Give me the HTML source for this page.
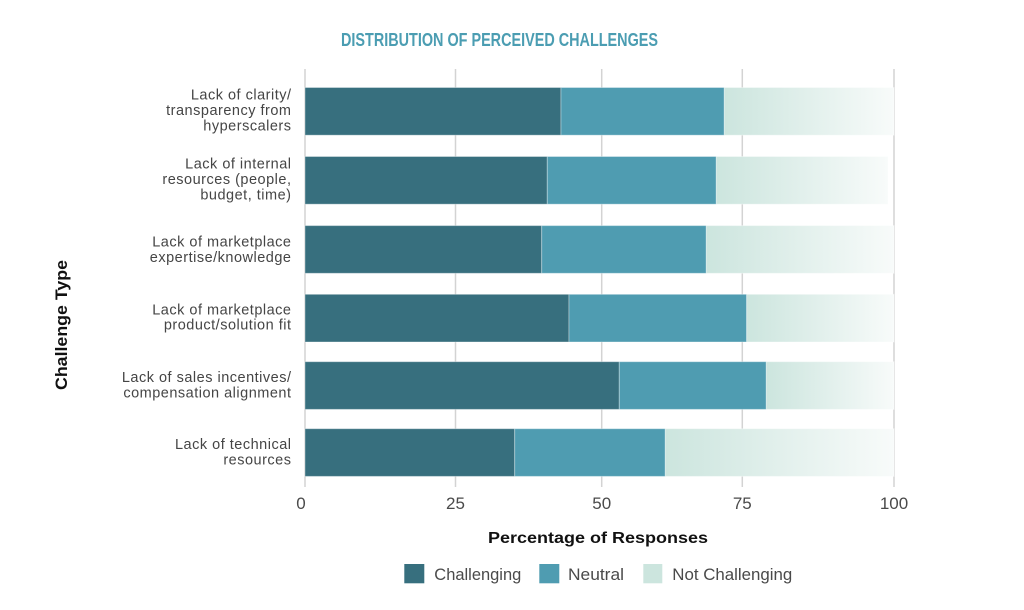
<!DOCTYPE html>
<html>
<head>
<meta charset="utf-8">
<style>
  html, body { margin: 0; padding: 0; background: #ffffff; }
  svg { display: block; }
  text { font-family: "Liberation Sans", sans-serif; }
</style>
</head>
<body>
<svg width="1024" height="610" viewBox="0 0 1024 610" xmlns="http://www.w3.org/2000/svg">
  <defs>
    <linearGradient id="nc" x1="0" y1="0" x2="1" y2="0">
      <stop offset="0" stop-color="#cce5de"/>
      <stop offset="1" stop-color="#f8fbfa"/>
    </linearGradient>
  </defs>
  <rect width="1024" height="610" fill="#ffffff"/>

  <!-- Title -->
  <text x="499.5" y="46" text-anchor="middle" font-size="18" font-weight="bold" fill="#4b9db2" textLength="317" lengthAdjust="spacingAndGlyphs">DISTRIBUTION OF PERCEIVED CHALLENGES</text>

  <!-- Gridlines -->
  <g stroke="#d3d3d3" stroke-width="1.5">
    <line x1="305" y1="69" x2="305" y2="487"/>
    <line x1="455.5" y1="69" x2="455.5" y2="487"/>
    <line x1="601.7" y1="69" x2="601.7" y2="487"/>
    <line x1="742.3" y1="69" x2="742.3" y2="487"/>
    <line x1="894" y1="69" x2="894" y2="487"/>
  </g>

  <!-- Bars -->
  <g stroke="rgba(255,255,255,0.35)" stroke-width="1">
    <rect x="305" y="87.5" width="256" height="47.7" fill="#376f7e"/>
    <rect x="561" y="87.5" width="163.3" height="47.7" fill="#4f9cb1"/>
    <rect x="724.3" y="87.5" width="169.7" height="47.7" fill="url(#nc)"/>

    <rect x="305" y="156.5" width="242.3" height="47.7" fill="#376f7e"/>
    <rect x="547.3" y="156.5" width="169" height="47.7" fill="#4f9cb1"/>
    <rect x="716.3" y="156.5" width="171.7" height="47.7" fill="url(#nc)"/>

    <rect x="305" y="225.6" width="236.7" height="47.7" fill="#376f7e"/>
    <rect x="541.7" y="225.6" width="164.6" height="47.7" fill="#4f9cb1"/>
    <rect x="706.3" y="225.6" width="187.7" height="47.7" fill="url(#nc)"/>

    <rect x="305" y="294.3" width="264" height="47.7" fill="#376f7e"/>
    <rect x="569" y="294.3" width="177.7" height="47.7" fill="#4f9cb1"/>
    <rect x="746.7" y="294.3" width="147.3" height="47.7" fill="url(#nc)"/>

    <rect x="305" y="361.7" width="314.3" height="47.7" fill="#376f7e"/>
    <rect x="619.3" y="361.7" width="147" height="47.7" fill="#4f9cb1"/>
    <rect x="766.3" y="361.7" width="127.7" height="47.7" fill="url(#nc)"/>

    <rect x="305" y="428.7" width="209.7" height="47.7" fill="#376f7e"/>
    <rect x="514.7" y="428.7" width="150.6" height="47.7" fill="#4f9cb1"/>
    <rect x="665.3" y="428.7" width="228.7" height="47.7" fill="url(#nc)"/>
  </g>

  <!-- Category labels -->
  <g font-size="14.5" fill="#454545" text-anchor="end" letter-spacing="0.5">
    <text x="291.5" y="99.5">Lack of clarity/</text>
    <text x="291.5" y="115">transparency from</text>
    <text x="291.5" y="130.5">hyperscalers</text>

    <text x="291.5" y="168.5">Lack of internal</text>
    <text x="291.5" y="184">resources (people,</text>
    <text x="291.5" y="199.5">budget, time)</text>

    <text x="291.5" y="246.7">Lack of marketplace</text>
    <text x="291.5" y="262">expertise/knowledge</text>

    <text x="291.5" y="314.5">Lack of marketplace</text>
    <text x="291.5" y="329.7">product/solution fit</text>

    <text x="291.5" y="382">Lack of sales incentives/</text>
    <text x="291.5" y="397.3">compensation alignment</text>

    <text x="291.5" y="449">Lack of technical</text>
    <text x="291.5" y="464.3">resources</text>
  </g>

  <!-- Tick labels -->
  <g font-size="17" fill="#4a4a4a" text-anchor="middle">
    <text x="301" y="509">0</text>
    <text x="455.5" y="509">25</text>
    <text x="601.7" y="509">50</text>
    <text x="742.3" y="509">75</text>
    <text x="894" y="509">100</text>
  </g>

  <!-- Axis titles -->
  <text x="598" y="543" text-anchor="middle" font-size="15.5" font-weight="bold" fill="#111" textLength="220" lengthAdjust="spacingAndGlyphs">Percentage of Responses</text>
  <text transform="translate(67,325) rotate(-90)" x="0" y="0" text-anchor="middle" font-size="17" font-weight="bold" fill="#111" textLength="130" lengthAdjust="spacingAndGlyphs">Challenge Type</text>

  <!-- Legend -->
  <rect x="404.3" y="564" width="20" height="19.3" fill="#376f7e"/>
  <text x="434.3" y="580" font-size="16.5" fill="#4a4a4a" textLength="87" lengthAdjust="spacingAndGlyphs">Challenging</text>
  <rect x="539.3" y="564" width="20" height="19.3" fill="#4f9cb1"/>
  <text x="568" y="580" font-size="16.5" fill="#4a4a4a" textLength="56" lengthAdjust="spacingAndGlyphs">Neutral</text>
  <rect x="643.3" y="564" width="19" height="19.3" fill="#cce5de"/>
  <text x="672.3" y="580" font-size="16.5" fill="#4a4a4a" textLength="120" lengthAdjust="spacingAndGlyphs">Not Challenging</text>
</svg>
</body>
</html>
